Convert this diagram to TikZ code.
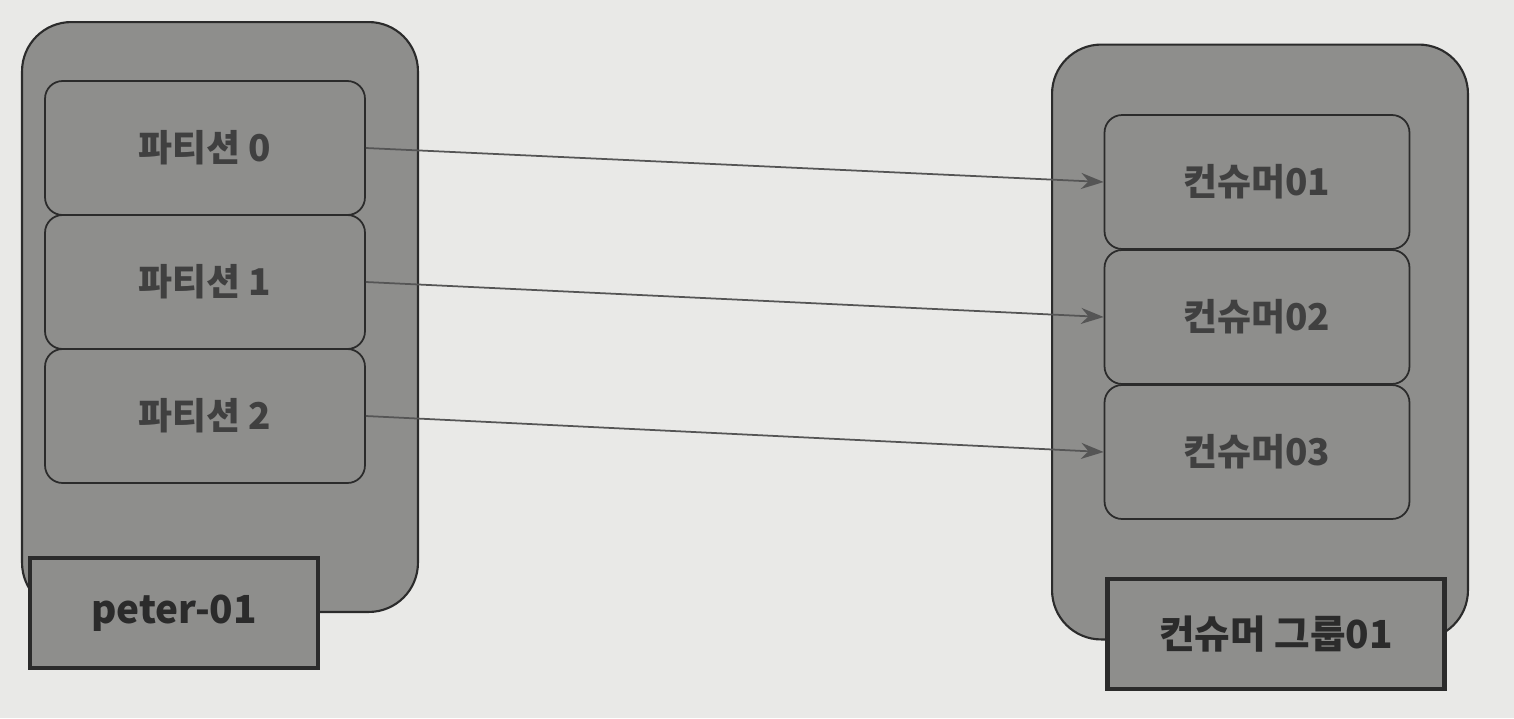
\documentclass[tikz,border=0pt]{standalone}
\usepackage{fontspec}
\setmainfont{Noto Sans CJK KR}
\usepackage{tikz}
\usetikzlibrary{arrows.meta, positioning}

\definecolor{PaperWhite}{HTML}{E9E9E7}
\definecolor{BoxGray}{HTML}{8E8E8C}
\definecolor{InkDark}{HTML}{2B2B2B}

\begin{document}
\begin{tikzpicture}[
        x=0.02cm, y=-0.02cm,
        group/.style={draw=InkDark, fill=BoxGray, rounded corners=28pt, line width=1.2pt},
        item/.style={draw=InkDark, fill=BoxGray, rounded corners=10pt, minimum height=2.68cm, align=center, font=\fontsize{21}{24}\selectfont\bfseries, text=InkDark!90, line width=1pt},
        tag/.style={draw=InkDark, fill=BoxGray, minimum height=2.2cm, align=center, font=\fontsize{22}{26}\selectfont\bfseries, text=InkDark, line width=2.4pt},
        arr/.style={-{Stealth[length=4.5mm, width=3.2mm]}, line width=1pt, InkDark!80}
    ]
        \useasboundingbox[fill=PaperWhite] (0,0) rectangle (1514,718);

        % producer side
        \node[group, minimum width=7.92cm, minimum height=11.8cm] (prod) at (220,317) {};
        \node[item, minimum width=6.4cm] (p0) at (205,148) {파티션 0};
        \node[item, minimum width=6.4cm] (p1) at (205,282) {파티션 1};
        \node[item, minimum width=6.4cm] (p2) at (205,416) {파티션 2};
        \node[tag, minimum width=5.76cm] (topic) at (174,613) {peter-01};

        % consumer side
        \node[group, minimum width=8.32cm, minimum height=11.9cm] (grp) at (1260,342) {};
        \node[item, minimum width=6.1cm] (c1) at (1257,182) {컨슈머01};
        \node[item, minimum width=6.1cm] (c2) at (1257,317) {컨슈머02};
        \node[item, minimum width=6.1cm] (c3) at (1257,452) {컨슈머03};
        \node[tag, minimum width=6.74cm] (cg) at (1276,634) {컨슈머 그룹01};

        \draw[arr] (p0.east) -- (c1.west);
        \draw[arr] (p1.east) -- (c2.west);
        \draw[arr] (p2.east) -- (c3.west);
    \end{tikzpicture}
\end{document}
